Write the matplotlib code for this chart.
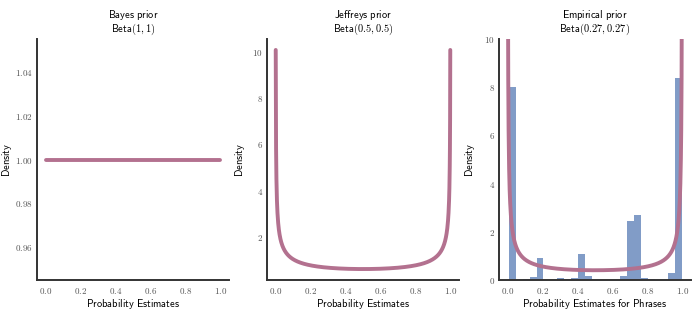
import numpy as np
import matplotlib
matplotlib.use("Agg")
import matplotlib.pyplot as plt
from matplotlib.ticker import FuncFormatter
from math import gamma

plt.rcParams['mathtext.fontset'] = 'cm'

# priors: (title, alpha, beta)
titles = ["Bayes prior", "Jeffreys prior", "Empirical prior"]
alphas = [1.0, 0.5, 0.27]
betas = [1.0, 0.5, 0.27]
xlabels = ["Probability Estimates", "Probability Estimates",
           "Probability Estimates for Phrases"]

# histogram of phrase estimates (density per bin)
hist_edges = np.linspace(0.007, 1.0, 26)
hist_heights = [8.0, 0.0, 0.05, 0.13, 0.92, 0.0, 0.0, 0.10, 0.06, 0.10,
                1.07, 0.18, 0.0, 0.0, 0.0, 0.0, 0.17, 2.45, 2.68, 0.08,
                0.03, 0.0, 0.0, 0.27, 8.4]

line_color = '#b3718f'
bar_color = '#4c72b0'


def beta_pdf(x, a, b):
    norm = gamma(a + b) / (gamma(a) * gamma(b))
    return norm * x ** (a - 1) * (1 - x) ** (b - 1)


def xfmt(v, pos):
    return "$%.1f$" % v


def yfmt2(v, pos):
    return "$%.2f$" % v


def yfmt_int(v, pos):
    return "$%d$" % round(v)


def sf(s):
    return r"$\mathsf{%s}$" % s.replace(" ", r"\ ")


fig = plt.figure(figsize=(6.98, 3.12), dpi=100)
lefts = [37, 267, 499]
ylab_x = [-0.118, -0.104, -0.115]
width = 192
for i in range(3):
    ax = fig.add_axes([lefts[i] / 698, 32 / 312, width / 698, 241 / 312])
    x = np.linspace(0.001, 0.999, 1000)
    if i == 2:
        centers = (hist_edges[:-1] + hist_edges[1:]) / 2
        ax.bar(centers, hist_heights, width=np.diff(hist_edges), color=bar_color,
               alpha=0.7, linewidth=0)
    y = beta_pdf(x, alphas[i], betas[i])
    ax.plot(x, y, color=line_color, lw=2.8, solid_capstyle='round')
    if i == 2:
        ax.set_ylim(0, 10)
        ax.yaxis.set_major_formatter(FuncFormatter(yfmt_int))
    elif i == 1:
        ax.yaxis.set_major_formatter(FuncFormatter(yfmt_int))
        ax.set_yticks([2, 4, 6, 8, 10])
    else:
        ax.yaxis.set_major_formatter(FuncFormatter(yfmt2))
        ax.set_yticks([0.96, 0.98, 1.00, 1.02, 1.04])
    ax.set_xticks([0, 0.2, 0.4, 0.6, 0.8, 1.0])
    ax.xaxis.set_major_formatter(FuncFormatter(xfmt))
    ax.tick_params(length=0, labelsize=6.5, colors='#555555')
    ax.tick_params(axis='x', pad=4)
    ax.tick_params(axis='y', pad=3)
    for s in ['top', 'right']:
        ax.spines[s].set_visible(False)
    for s in ['left', 'bottom']:
        ax.spines[s].set_linewidth(1.4)
        ax.spines[s].set_color('#333333')
    ab = "%g, %g" % (alphas[i], betas[i])
    ax.set_title(sf(titles[i]) + "\n" + r"$\mathsf{Beta}(%s)$" % ab,
                 fontsize=7.5, pad=5, linespacing=1.0)
    ax.set_xlabel(sf(xlabels[i]), fontsize=7.5, labelpad=1)
    ax.set_ylabel(sf("Density"), fontsize=7.5)
    ax.yaxis.set_label_coords(ylab_x[i], 0.5)

fig.savefig("out.png", dpi=100)
